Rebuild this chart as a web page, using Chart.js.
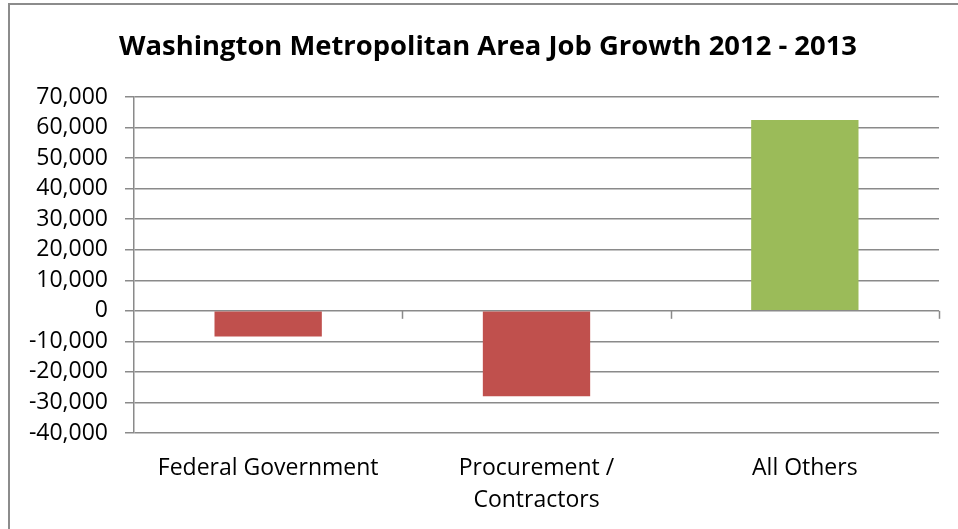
<!DOCTYPE html>
<html>
<head>
<meta charset="utf-8">
<script src="https://cdn.jsdelivr.net/npm/chart.js@4/dist/chart.umd.min.js"></script>
<style>
    html, body { margin: 0; padding: 0; background: #fff; }
    #wrap { width: 958px; height: 529px; position: relative; }
</style>
</head>
<body>
<div id="wrap"><canvas id="jobsChart" width="958" height="529"></canvas></div>
<script>
const chartTitle = 'Washington Metropolitan Area Job Growth 2012 - 2013';
const categories = ['Federal Government', ['Procurement /', 'Contractors'], 'All Others'];
const jobChange = [-8400, -28000, 62500];
const barColors = ['#C0504D', '#C0504D', '#9BBB59'];
const yMin = -40000;
const yMax = 70000;
const yStep = 10000;

const gridGray = '#8a8a8a';
const fontFamily = "'Open Sans', Lato, sans-serif";

// chart-area border, title and the little category ticks on the zero line
const excelLook = {
    id: 'excelLook',
    beforeDraw(chart) {
        const ctx = chart.ctx;
        ctx.save();
        ctx.strokeStyle = '#8c8c8c';
        ctx.lineWidth = 2;
        ctx.beginPath();
        ctx.moveTo(9, 529);
        ctx.lineTo(9, 4);
        ctx.lineTo(958, 4);
        ctx.stroke();
        ctx.restore();
    },
    afterDraw(chart) {
        const ctx = chart.ctx;
        const x = chart.scales.x;
        const y = chart.scales.y;
        const zero = y.getPixelForValue(0);
        ctx.save();
        ctx.strokeStyle = gridGray;
        ctx.lineWidth = 1.5;
        for (let i = 1; i <= categories.length; i++) {
            const px = Math.round(x.getPixelForValue(i - 0.5)) + 0.5;
            ctx.beginPath();
            ctx.moveTo(px, zero);
            ctx.lineTo(px, zero + 8);
            ctx.stroke();
        }
        ctx.fillStyle = '#000';
        ctx.font = "bold 27.4px " + fontFamily;
        ctx.textAlign = 'center';
        ctx.textBaseline = 'alphabetic';
        ctx.fillText(chartTitle, 488, 55);
        ctx.restore();
    }
};

new Chart(document.getElementById('jobsChart').getContext('2d'), {
    type: 'bar',
    data: {
        labels: categories,
        datasets: [{
            data: jobChange,
            backgroundColor: barColors,
            borderWidth: 0,
            categoryPercentage: 1,
            barPercentage: 0.4
        }]
    },
    options: {
        responsive: false,
        animation: false,
        layout: { padding: { top: 97, right: 19, left: 0, bottom: 0 } },
        plugins: {
            legend: { display: false },
            title: { display: false },
            tooltip: { enabled: false }
        },
        scales: {
            x: {
                grid: { display: false, drawTicks: false },
                border: { display: false },
                ticks: {
                    color: '#000',
                    padding: 19,
                    maxRotation: 0,
                    autoSkip: false,
                    font: { family: fontFamily, size: 23, lineHeight: 1.4 }
                },
                afterFit(scale) { scale.height = 96; }
            },
            y: {
                min: yMin,
                max: yMax,
                grid: { color: gridGray, lineWidth: 1.5, tickLength: 9 },
                border: { color: gridGray, width: 1.5 },
                ticks: {
                    stepSize: yStep,
                    autoSkip: false,
                    color: '#000',
                    padding: 17,
                    font: { family: fontFamily, size: 23 },
                    callback: v => v.toLocaleString('en-US')
                },
                afterFit(scale) { scale.width = 134; }
            }
        }
    },
    plugins: [excelLook]
});
</script>
</body>
</html>
